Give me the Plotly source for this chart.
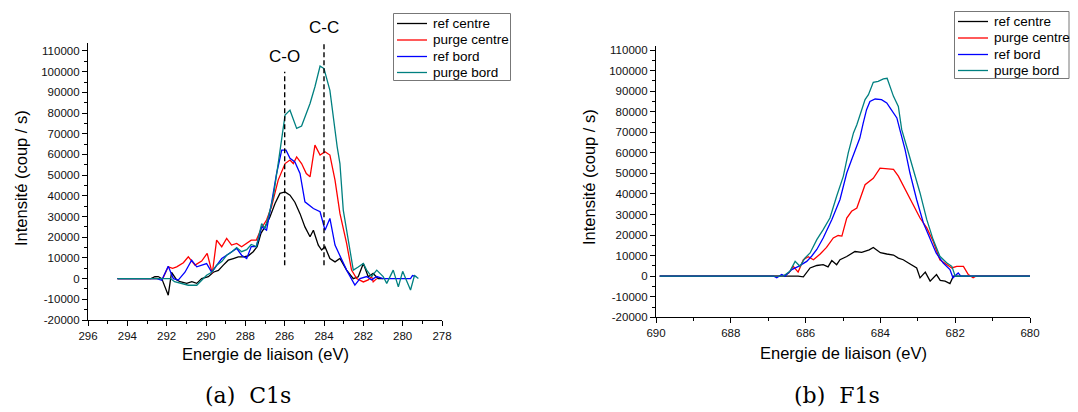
import plotly.graph_objects as go

# ---------------- data: C1s (left) ----------------
c1s_ref_centre_x = [294.5, 292.8, 292.6, 292.43, 292.25, 291.92, 291.75, 291.5, 291.32, 290.98, 290.72, 290.47,
                    290.22, 289.88, 289.63, 289.37, 289.12, 288.87, 288.61, 288.36, 288.1, 287.85, 287.6, 287.4,
                    287.2, 287.0, 286.75, 286.49, 286.24, 285.98, 285.73, 285.48, 285.22, 284.97, 284.71, 284.54,
                    284.29, 284.12, 283.95, 283.7, 283.44, 283.19, 282.85, 282.51, 282.26, 282.0, 281.75, 281.5,
                    281.25, 281.0]
c1s_ref_centre_y = [0, 0, 900, 1000, 0, -8000, 3000, -500, -1500, -2300, -1500, -2300,
                    0, 900, 3100, 4000, 6500, 8900, 9700, 10500, 10500, 11000, 13000, 15400,
                    22000, 25000, 29800, 36300, 41200, 41900, 40300, 36900, 31400, 25000, 20200, 23400,
                    16200, 13800, 15400, 9700, 8100, 9700, 4100, 0, 900, 7300, 900, 2500,
                    0, 0]

c1s_purge_centre_x = [294.5, 292.2, 291.92, 291.7, 291.49, 291.15, 290.9, 290.56, 290.22, 289.94, 289.68,
                      289.46, 289.2, 288.95, 288.7, 288.44, 288.19, 287.93, 287.7, 287.44, 287.19, 286.92,
                      286.67, 286.33, 285.98, 285.73, 285.56, 285.39, 285.14, 284.9, 284.71, 284.46, 284.2,
                      283.95, 283.7, 283.44, 283.19, 282.85, 282.6, 282.34, 282.0, 281.75, 281.58, 281.5, 281.32]
c1s_purge_centre_y = [0, 0, 5700, 5000, 5700, 7700, 10500, 6500, 8500, 12200, 2500,
                      18600, 15400, 19400, 16200, 17000, 15400, 17000, 18600, 18600, 24200, 28300,
                      34700, 47600, 55600, 57300, 55600, 58800, 55600, 50800, 49200, 64500, 59700,
                      61300, 59700, 47600, 31500, 17000, 4100, 0, -1600, -600, 1000, -1600, 0]

c1s_ref_bord_x = [294.5, 292.5, 292.25, 291.92, 291.66, 291.41, 291.07, 290.73, 290.47, 290.22, 289.97, 289.71,
                  289.46, 289.2, 288.95, 288.7, 288.44, 288.19, 287.93, 287.7, 287.44, 287.17, 286.92, 286.67,
                  286.41, 286.15, 285.93, 285.73, 285.48, 285.22, 284.97, 284.54, 284.2, 283.95, 283.7, 283.44,
                  283.19, 282.85, 282.43, 282.17, 281.83, 281.58, 281.32, 281.0, 279.6, 279.5, 279.3]
c1s_ref_bord_y = [0, 0, -800, 6000, 0, -700, 3100, 8900, 5700, 6500, 7300, 3100,
                  6500, 9700, 11300, 13000, 14600, 11300, 9700, 15500, 15500, 25000, 23400, 36300,
                  50800, 62100, 62100, 58100, 56400, 50800, 37100, 33900, 32300, 23400, 29100, 16200,
                  11300, 4100, -3100, 0, 1000, -600, 1000, 0, 0, 1500, 1000]

c1s_purge_bord_x = [294.5, 291.8, 291.6, 291.32, 290.9, 290.47, 290.22, 289.97, 289.71, 289.46, 289.2, 288.95,
                    288.7, 288.44, 288.19, 287.93, 287.7, 287.44, 287.17, 287.0, 286.83, 286.58, 286.33, 286.07,
                    285.98, 285.73, 285.39, 285.14, 284.71, 284.46, 284.2, 284.0, 283.7, 283.33, 283.19, 283.02,
                    282.77, 282.51, 282.26, 282.0, 281.83, 281.58, 281.32, 280.99, 280.81, 280.48, 280.22, 280.0,
                    279.8, 279.6, 279.4, 279.2]
c1s_purge_bord_y = [0, 0, -1500, -2300, -3200, -3200, -700, 1600, 3100, 6500, 8200, 11300,
                    12900, 15000, 13000, 14000, 16500, 15500, 26600, 24200, 29800, 39500, 55600, 71700,
                    79000, 81400, 72600, 73700, 84600, 92700, 102700, 101500, 91000, 63700, 55600, 33100,
                    18600, 4100, 5600, 7300, 4100, 1000, 4100, 1000, -2300, 4100, -4000, 3500,
                    -1000, -5500, 1500, 0]

c1s_peak_labels = ["C-O", "C-C"]
c1s_peak_energy = [286, 284]

# ---------------- data: F1s (right) ----------------
f1s_ref_centre_x = [689.9, 686.8, 686.6, 686.4, 686.2, 686.06, 685.88, 685.7, 685.53, 685.4, 685.3, 685.17,
                    685.08, 684.9, 684.68, 684.5, 684.3, 684.19, 684.0, 683.83, 683.65, 683.52, 683.39, 683.25,
                    683.12, 683.03, 682.94, 682.8, 682.67, 682.5, 682.4, 682.27, 682.14, 682.05, 680.0]
f1s_ref_centre_y = [0, 0, 0, 300, 0, -300, 4000, 5200, 5600, 4500, 7600, 5600,
                    8000, 9600, 12000, 11600, 12800, 14000, 11400, 10800, 10300, 8800, 8000, 6400,
                    5200, 4000, -800, 2000, -2400, 800, -2000, -2400, -3600, 0, 0]

f1s_purge_centre_x = [689.9, 686.8, 686.6, 686.45, 686.33, 686.2, 686.06, 685.93, 685.79, 685.61, 685.44, 685.26,
                      685.13, 685.03, 684.9, 684.77, 684.63, 684.41, 684.19, 684.01, 683.83, 683.65, 683.52,
                      683.39, 683.25, 683.12, 682.94, 682.76, 682.59, 682.41, 682.23, 682.09, 681.96, 681.78,
                      681.65, 681.52, 681.45, 680.0]
f1s_purge_centre_y = [0, 0, 0, 1500, 4800, 2000, 8000, 9500, 8000, 10800, 14000, 18600,
                      19800, 19500, 28300, 31600, 33200, 44500, 47600, 52600, 52200, 52000, 48700,
                      44000, 39000, 34000, 28300, 23500, 17000, 8000, 5600, 4000, 4800, 4800,
                      800, -800, 0, 0]

f1s_ref_bord_x = [689.9, 686.85, 686.77, 686.64, 686.55, 686.37, 686.19, 685.97, 685.84, 685.7, 685.53, 685.3,
                  685.08, 684.9, 684.77, 684.63, 684.55, 684.46, 684.37, 684.28, 684.14, 683.97, 683.83, 683.71,
                  683.56, 683.48, 683.34, 683.21, 683.03, 682.85, 682.67, 682.51, 682.32, 682.14, 682.06, 681.92,
                  681.85, 680.0]
f1s_ref_bord_y = [0, 0, -800, 800, 0, 3200, 4800, 7200, 9700, 13000, 18600, 27500,
                  37300, 50200, 56700, 63200, 67200, 74500, 81000, 85000, 86200, 85900, 84300, 81000,
                  77000, 71300, 61600, 50200, 37200, 25900, 17800, 11300, 6400, 3200, -800, 1600,
                  0, 0]

f1s_purge_bord_x = [689.9, 686.6, 686.42, 686.28, 686.15, 686.02, 685.88, 685.7, 685.53, 685.35, 685.17, 684.99,
                    684.86, 684.72, 684.63, 684.5, 684.41, 684.32, 684.19, 684.06, 683.92, 683.82, 683.74, 683.65,
                    683.52, 683.43, 683.3, 683.12, 682.94, 682.76, 682.59, 682.41, 682.23, 682.09, 682.0, 680.0]
f1s_purge_bord_y = [0, 0, 2400, 7200, 4800, 8800, 11300, 17800, 22700, 28300, 38900, 48700,
                    60000, 69700, 73700, 81000, 85900, 88300, 94300, 94800, 96000, 96300, 92400, 87500,
                    82600, 71300, 63200, 51800, 40500, 27500, 17800, 9700, 6500, 4800, 0, 0]

series_names = ["ref centre", "purge centre", "ref bord", "purge bord"]
y_ticks = [-20000, -10000, 0, 10000, 20000, 30000, 40000, 50000, 60000, 70000, 80000, 90000, 100000, 110000]
c1s_x_ticks = [296, 294, 292, 290, 288, 286, 284, 282, 280, 278]
f1s_x_ticks = [690, 688, 686, 684, 682, 680]
captions = ["(a)\u00a0\u00a0C1s", "(b)\u00a0\u00a0F1s"]
axis_x_title = "Energie de liaison (eV)"
axis_y_title = "Intensité (coup / s)"

# ---------------- styling / layout ----------------
# the page body has an 8px default margin; positions below are given in window pixels
OFF = 8
W, H = 1078 - OFF, 412 - OFF
colors = ["#000000", "#ff0000", "#0000ff", "#008080"]
FONT = "Liberation Sans, Arial, sans-serif"


def fx(p):
    return (p - OFF) / W


def fy(p):
    return 1 - (p - OFF) / H


fig = go.Figure()
left = [(c1s_ref_centre_x, c1s_ref_centre_y), (c1s_purge_centre_x, c1s_purge_centre_y),
        (c1s_ref_bord_x, c1s_ref_bord_y), (c1s_purge_bord_x, c1s_purge_bord_y)]
right = [(f1s_ref_centre_x, f1s_ref_centre_y), (f1s_purge_centre_x, f1s_purge_centre_y),
         (f1s_ref_bord_x, f1s_ref_bord_y), (f1s_purge_bord_x, f1s_purge_bord_y)]

for name, col, (xs, ys) in zip(series_names, colors, left):
    fig.add_trace(go.Scatter(x=xs, y=ys, mode="lines", name=name, line=dict(color=col, width=1.3),
                             xaxis="x", yaxis="y", showlegend=False))
for name, col, (xs, ys) in zip(series_names, colors, right):
    fig.add_trace(go.Scatter(x=xs, y=ys, mode="lines", name=name, line=dict(color=col, width=1.3),
                             xaxis="x2", yaxis="y2", showlegend=False))

tickfont = dict(family=FONT, size=11.5, color="#111")
common_axis = dict(showline=True, linecolor="black", linewidth=1.2, ticks="outside", ticklen=5,
                   tickwidth=1, tickcolor="black", showgrid=False, zeroline=False, tickfont=tickfont,
                   automargin=False, mirror=False)
y_minor = dict(dtick=5000, tick0=0, ticklen=3, ticks="outside", tickcolor="black", showgrid=False)
x_minor = dict(dtick=1, tick0=0, ticklen=3, ticks="outside", tickcolor="black", showgrid=False)

fig.update_layout(
    width=W, height=H, margin=dict(l=0, r=0, t=0, b=0),
    paper_bgcolor="white", plot_bgcolor="white", showlegend=False,
    xaxis=dict(domain=[fx(88), fx(442)], range=[296, 278], anchor="y",
               tickvals=c1s_x_ticks, ticktext=[str(v) for v in c1s_x_ticks], minor=x_minor, **common_axis),
    yaxis=dict(domain=[fy(320), fy(42.7)], range=[-20000, 114000], anchor="x",
               tickvals=y_ticks, ticktext=[str(v) for v in y_ticks], minor=y_minor, **common_axis),
    xaxis2=dict(domain=[fx(656), fx(1030)], range=[690, 680], anchor="y2",
                tickvals=f1s_x_ticks, ticktext=[str(v) for v in f1s_x_ticks], minor=x_minor, **common_axis),
    yaxis2=dict(domain=[fy(317.3), fy(46)], range=[-20000, 112000], anchor="x2",
                tickvals=y_ticks, ticktext=[str(v) for v in y_ticks], minor=y_minor, **common_axis),
)

# legends drawn as boxes with line samples (paper coordinates)
leg_font = dict(family=FONT, size=13.5, color="black")
legend_boxes = [dict(x0=393.5, x1=510.5, y0=13.5, y1=80.5, rows=[23.5, 40, 56.5, 72.5]),
                dict(x0=954.5, x1=1069, y0=11.5, y1=78.5, rows=[21.5, 38, 54.5, 70.5])]
for box in legend_boxes:
    fig.add_shape(type="rect", xref="paper", yref="paper", x0=fx(box["x0"]), x1=fx(box["x1"]),
                  y0=fy(box["y1"]), y1=fy(box["y0"]), line=dict(color="#777", width=1), fillcolor="white",
                  layer="above")
    for name, col, ry in zip(series_names, colors, box["rows"]):
        fig.add_shape(type="line", xref="paper", yref="paper", x0=fx(box["x0"] + 3.5), x1=fx(box["x0"] + 33.5),
                      y0=fy(ry), y1=fy(ry), line=dict(color=col, width=1.3), layer="above")
        fig.add_annotation(x=fx(box["x0"] + 37), y=fy(ry), xref="paper", yref="paper", text=name,
                           showarrow=False, font=leg_font, xanchor="left", yanchor="middle")

# dashed peak markers
peak_tops = [100000, 114000]
for e, top in zip(c1s_peak_energy, peak_tops):
    fig.add_shape(type="line", xref="x", yref="y", x0=e, x1=e, y0=6500, y1=top,
                  line=dict(color="black", width=1.4, dash="5px,3px"))
peak_label_py = [56.5, 27.5]
for lab, e, pyy in zip(c1s_peak_labels, c1s_peak_energy, peak_label_py):
    fig.add_annotation(x=e, y=fy(pyy), xref="x", yref="paper", text=lab, showarrow=False,
                       font=dict(family=FONT, size=17, color="black"), xanchor="center", yanchor="middle")

# axis titles
title_font = dict(family=FONT, size=16.5, color="black")
fig.add_annotation(x=fx(265), y=fy(354), xref="paper", yref="paper", text=axis_x_title, showarrow=False,
                   font=title_font, xanchor="center", yanchor="middle")
fig.add_annotation(x=fx(843), y=fy(353), xref="paper", yref="paper", text=axis_x_title, showarrow=False,
                   font=title_font, xanchor="center", yanchor="middle")
fig.add_annotation(x=fx(21), y=fy(178), xref="paper", yref="paper", text=axis_y_title, showarrow=False,
                   font=title_font, textangle=-90, xanchor="center", yanchor="middle")
fig.add_annotation(x=fx(589), y=fy(177), xref="paper", yref="paper", text=axis_y_title, showarrow=False,
                   font=title_font, textangle=-90, xanchor="center", yanchor="middle")

# captions
cap_font = dict(family="DejaVu Serif, serif", size=22, color="black")
fig.add_annotation(x=fx(248), y=fy(395), xref="paper", yref="paper", text=captions[0], showarrow=False,
                   font=cap_font, xanchor="center", yanchor="middle")
fig.add_annotation(x=fx(837), y=fy(395), xref="paper", yref="paper", text=captions[1], showarrow=False,
                   font=cap_font, xanchor="center", yanchor="middle")

fig.write_html("out.html")
